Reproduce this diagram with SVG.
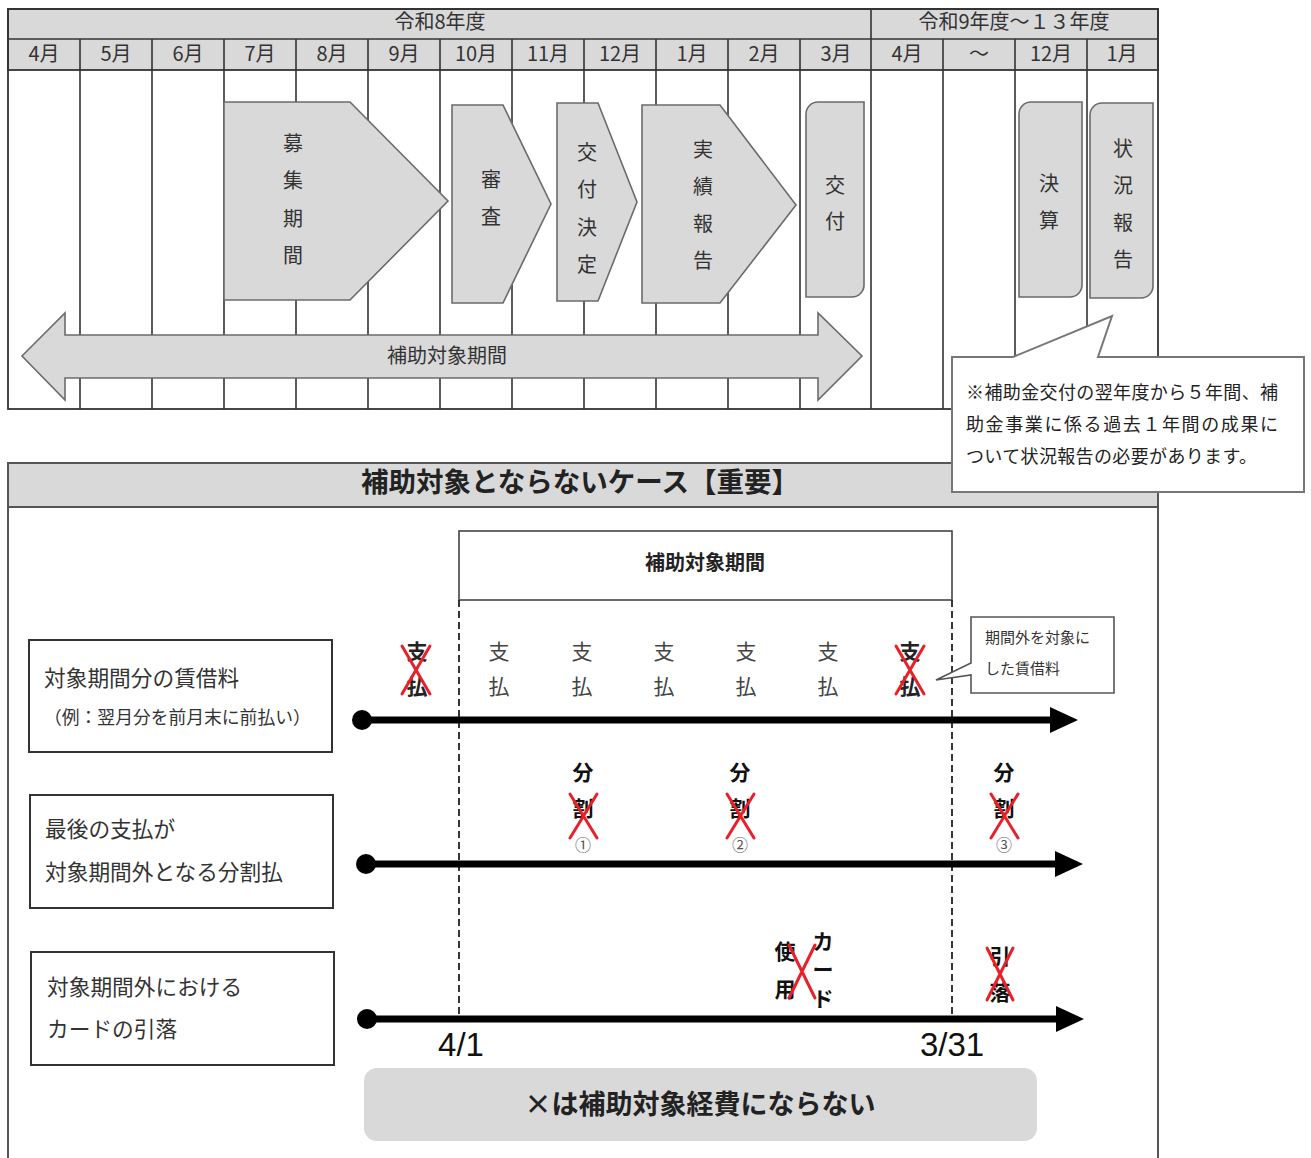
<svg xmlns="http://www.w3.org/2000/svg" width="1311" height="1158" viewBox="0 0 1311 1158">
<style>
.jp{font-family:"Noto Sans CJK JP","Noto Sans",sans-serif}
.hdr{fill:#d9d9d9;stroke:#333;stroke-width:1.8}
.cell{fill:none;stroke:#333;stroke-width:1.8}
.tl{stroke:#333;stroke-width:1.6}
.shape{fill:#d9d9d9;stroke:#6b6b6b;stroke-width:1.6}
.mt{font-size:20px;fill:#333;text-anchor:middle}
.vt{font-size:20px;fill:#333;text-anchor:middle}
.box{fill:#fff;stroke:#333;stroke-width:2}
.lbl{font-size:21.7px;fill:#333}
.pay{font-size:21px;fill:#444;text-anchor:middle}
.payx{font-size:21px;fill:#222;font-weight:bold;text-anchor:middle}
.bk{font-size:21px;fill:#111;font-weight:bold;text-anchor:middle}
.cn{font-size:16px;fill:#555;text-anchor:middle}
.rx{stroke:#e8202a;stroke-width:3;fill:none;stroke-linecap:round}
.dash{stroke:#222;stroke-width:1.8;stroke-dasharray:7 4;fill:none}
.line{stroke:#000;stroke-width:7}
</style>
<rect width="1311" height="1158" fill="#fff"/>

<!-- Top schedule table -->
<g id="schedule-table">
  <rect class="hdr" x="8" y="9" width="1150" height="61"/>
  <line class="tl" x1="8" y1="39" x2="1158" y2="39"/>
  <line class="tl" x1="871" y1="9" x2="871" y2="39"/>
  <text class="jp mt" x="440" y="29">令和8年度</text>
  <text class="jp mt" x="1014" y="29">令和9年度～１３年度</text>
  <g class="tl">
    <line x1="80" y1="39" x2="80" y2="409"/>
    <line x1="152" y1="39" x2="152" y2="409"/>
    <line x1="224" y1="39" x2="224" y2="409"/>
    <line x1="296" y1="39" x2="296" y2="409"/>
    <line x1="368" y1="39" x2="368" y2="409"/>
    <line x1="440" y1="39" x2="440" y2="409"/>
    <line x1="512" y1="39" x2="512" y2="409"/>
    <line x1="584" y1="39" x2="584" y2="409"/>
    <line x1="656" y1="39" x2="656" y2="409"/>
    <line x1="728" y1="39" x2="728" y2="409"/>
    <line x1="800" y1="39" x2="800" y2="409"/>
    <line x1="871" y1="39" x2="871" y2="409"/>
    <line x1="943" y1="39" x2="943" y2="409"/>
    <line x1="1015" y1="39" x2="1015" y2="409"/>
    <line x1="1087" y1="39" x2="1087" y2="409"/>
  </g>
  <rect class="cell" x="8" y="9" width="1150" height="400" stroke-width="2.2"/>
  <g class="jp">
    <text class="mt" x="44" y="61">4月</text>
    <text class="mt" x="116" y="61">5月</text>
    <text class="mt" x="188" y="61">6月</text>
    <text class="mt" x="260" y="61">7月</text>
    <text class="mt" x="332" y="61">8月</text>
    <text class="mt" x="404" y="61">9月</text>
    <text class="mt" x="476" y="61">10月</text>
    <text class="mt" x="548" y="61">11月</text>
    <text class="mt" x="620" y="61">12月</text>
    <text class="mt" x="692" y="61">1月</text>
    <text class="mt" x="764" y="61">2月</text>
    <text class="mt" x="836" y="61">3月</text>
    <text class="mt" x="907" y="61">4月</text>
    <text class="mt" x="979" y="61">～</text>
    <text class="mt" x="1051" y="61">12月</text>
    <text class="mt" x="1122" y="61">1月</text>
  </g>
</g>

<g id="step-boshu">
  <polygon class="shape" points="224,102 350,102 448,201 350,300 224,300"/>
  <g class="jp vt"><text x="293" y="151">募</text><text x="293" y="188">集</text><text x="293" y="226">期</text><text x="293" y="263">間</text></g>
</g>
<g id="step-shinsa">
  <polygon class="shape" points="452,105 503,105 551,204 503,303 452,303"/>
  <g class="jp vt"><text x="491" y="187">審</text><text x="491" y="224">査</text></g>
</g>
<g id="step-kofukettei">
  <polygon class="shape" points="557,103 598,103 637,202 598,301 557,301"/>
  <g class="jp vt"><text x="587" y="160">交</text><text x="587" y="197">付</text><text x="587" y="235">決</text><text x="587" y="272">定</text></g>
</g>
<g id="step-jisseki">
  <polygon class="shape" points="642,105 720,105 796,205 720,303 642,303"/>
  <g class="jp vt"><text x="703" y="157">実</text><text x="703" y="194">績</text><text x="703" y="231">報</text><text x="703" y="268">告</text></g>
</g>
<g id="step-kofu">
  <path class="shape" d="M818 102 H864 V285 A12 12 0 0 1 852 297 H806 V114 A12 12 0 0 1 818 102 Z"/>
  <g class="jp vt"><text x="835" y="193">交</text><text x="835" y="229">付</text></g>
</g>
<g id="step-kessan">
  <path class="shape" d="M1031 102 H1082 V285 A12 12 0 0 1 1070 297 H1019 V114 A12 12 0 0 1 1031 102 Z"/>
  <g class="jp vt"><text x="1049" y="191">決</text><text x="1049" y="228">算</text></g>
</g>
<g id="step-jokyo">
  <path class="shape" d="M1102 103 H1153 V286 A12 12 0 0 1 1141 298 H1090 V115 A12 12 0 0 1 1102 103 Z"/>
  <g class="jp vt"><text x="1123" y="156">状</text><text x="1123" y="193">況</text><text x="1123" y="230">報</text><text x="1123" y="267">告</text></g>
</g>

<g id="period-arrow">
  <polygon class="shape" points="22,356 65,313 65,335 818,335 818,313 862,356 818,400 818,378 65,378 65,400"/>
  <text class="jp" x="447" y="363" font-size="20" fill="#333" text-anchor="middle">補助対象期間</text>
</g>

<!-- Lower panel -->
<g id="cases-panel">
  <rect x="8" y="463" width="1150" height="700" fill="#fff" stroke="#555" stroke-width="2"/>
  <rect x="8" y="463" width="1150" height="44" fill="#d9d9d9" stroke="#555" stroke-width="2"/>
  <text class="jp" x="580" y="492" font-size="27.5" font-weight="bold" fill="#222" text-anchor="middle">補助対象とならないケース【重要】</text>
</g>

<g id="callout-note">
  <polygon points="952,357 1013,357 1112,316 1098,357 1304,357 1304,492 952,492" fill="#fff" stroke="#777" stroke-width="2" stroke-linejoin="miter"/>
  <g class="jp" font-size="18" fill="#222">
    <text x="966" y="399" textLength="312" lengthAdjust="spacing">※補助金交付の翌年度から５年間、補</text>
    <text x="966" y="431" textLength="312" lengthAdjust="spacing">助金事業に係る過去１年間の成果に</text>
    <text x="966" y="463" textLength="291" lengthAdjust="spacing">ついて状況報告の必要があります。</text>
  </g>
</g>

<g id="period-box">
  <rect x="459" y="531" width="493" height="69" fill="#fff" stroke="#444" stroke-width="1.6"/>
  <text class="jp" x="705" y="570" font-size="20" font-weight="bold" fill="#222" text-anchor="middle">補助対象期間</text>
</g>

<g id="connectors">
  <line class="dash" x1="459" y1="600" x2="459" y2="1016"/>
  <line class="dash" x1="952" y1="600" x2="952" y2="1016"/>
  <circle cx="362" cy="720" r="10" fill="#000"/>
  <line class="line" x1="362" y1="720" x2="1052" y2="720"/>
  <polygon points="1050,707 1078,720 1050,733" fill="#000"/>
  <circle cx="366" cy="864" r="10" fill="#000"/>
  <line class="line" x1="366" y1="864" x2="1057" y2="864"/>
  <polygon points="1055,851 1083,864 1055,877" fill="#000"/>
  <circle cx="367" cy="1019" r="10" fill="#000"/>
  <line class="line" x1="367" y1="1019" x2="1058" y2="1019"/>
  <polygon points="1056,1006 1084,1019 1056,1032" fill="#000"/>
</g>

<g id="case-rent">
  <rect class="box" x="29" y="640" width="303" height="112"/>
  <text class="jp lbl" x="44" y="686">対象期間分の賃借料</text>
  <text class="jp" x="44" y="724" font-size="17.8" fill="#333">（例：翌月分を前月末に前払い）</text>
</g>
<g id="rent-payments" class="jp">
  <text class="payx" x="417" y="659">支</text><text class="payx" x="417" y="694">払</text>
  <text class="pay" x="499" y="659">支</text><text class="pay" x="499" y="694">払</text>
  <text class="pay" x="582" y="659">支</text><text class="pay" x="582" y="694">払</text>
  <text class="pay" x="664" y="659">支</text><text class="pay" x="664" y="694">払</text>
  <text class="pay" x="746" y="659">支</text><text class="pay" x="746" y="694">払</text>
  <text class="pay" x="828" y="659">支</text><text class="pay" x="828" y="694">払</text>
  <text class="payx" x="910" y="659">支</text><text class="payx" x="910" y="694">払</text>
  <path class="rx" d="M402 646 L430 694 M430 646 L402 694"/>
  <path class="rx" d="M896 646 L924 694 M924 646 L896 694"/>
</g>
<g id="callout-rent">
  <polygon points="971,617 1114,617 1114,693 971,693 971,675 936,680 971,663" fill="#fff" stroke="#555" stroke-width="1.6"/>
  <text class="jp" x="985" y="643" font-size="15" fill="#333">期間外を対象に</text>
  <text class="jp" x="985" y="674" font-size="15" fill="#333">した賃借料</text>
</g>

<g id="case-installment">
  <rect class="box" x="30" y="795" width="303" height="113"/>
  <text class="jp lbl" x="45" y="837">最後の支払が</text>
  <text class="jp lbl" x="45" y="880">対象期間外となる分割払</text>
</g>
<g id="installments" class="jp">
  <text class="bk" x="583" y="780">分</text><text class="bk" x="583" y="816">割</text><text class="cn" x="583" y="851">①</text>
  <text class="bk" x="740" y="780">分</text><text class="bk" x="740" y="816">割</text><text class="cn" x="740" y="851">②</text>
  <text class="bk" x="1004" y="780">分</text><text class="bk" x="1004" y="816">割</text><text class="cn" x="1004" y="851">③</text>
  <path class="rx" d="M570 794 L597 838 M597 794 L570 838"/>
  <path class="rx" d="M727 794 L754 838 M754 794 L727 838"/>
  <path class="rx" d="M991 794 L1018 838 M1018 794 L991 838"/>
</g>

<g id="case-card">
  <rect class="box" x="31" y="952" width="303" height="113"/>
  <text class="jp lbl" x="47" y="995">対象期間外における</text>
  <text class="jp lbl" x="47" y="1037">カードの引落</text>
</g>
<g id="card-marks" class="jp">
  <text class="bk" x="823" y="949" font-size="20">カ</text>
  <text class="bk" x="823" y="977" font-size="20">ー</text>
  <text class="bk" x="823" y="1006" font-size="20">ド</text>
  <text class="bk" x="785" y="959" font-size="20">使</text>
  <text class="bk" x="785" y="997" font-size="20">用</text>
  <path class="rx" d="M789 945 L815 998 M815 945 L789 998"/>
  <text class="bk" x="1000" y="964" font-size="20">引</text>
  <text class="bk" x="1000" y="1000" font-size="20">落</text>
  <path class="rx" d="M987 948 L1013 1000 M1013 948 L987 1000"/>
</g>

<g id="date-labels" font-family="Liberation Sans, Arial, sans-serif" font-size="33" fill="#111" text-anchor="middle">
  <text x="461" y="1056">4/1</text>
  <text x="952" y="1056">3/31</text>
</g>

<g id="banner">
  <rect x="364" y="1068" width="673" height="73" rx="13" fill="#d9d9d9"/>
  <text class="jp" x="700" y="1114" font-size="27" font-weight="bold" fill="#222" text-anchor="middle">×は補助対象経費にならない</text>
</g>
</svg>
